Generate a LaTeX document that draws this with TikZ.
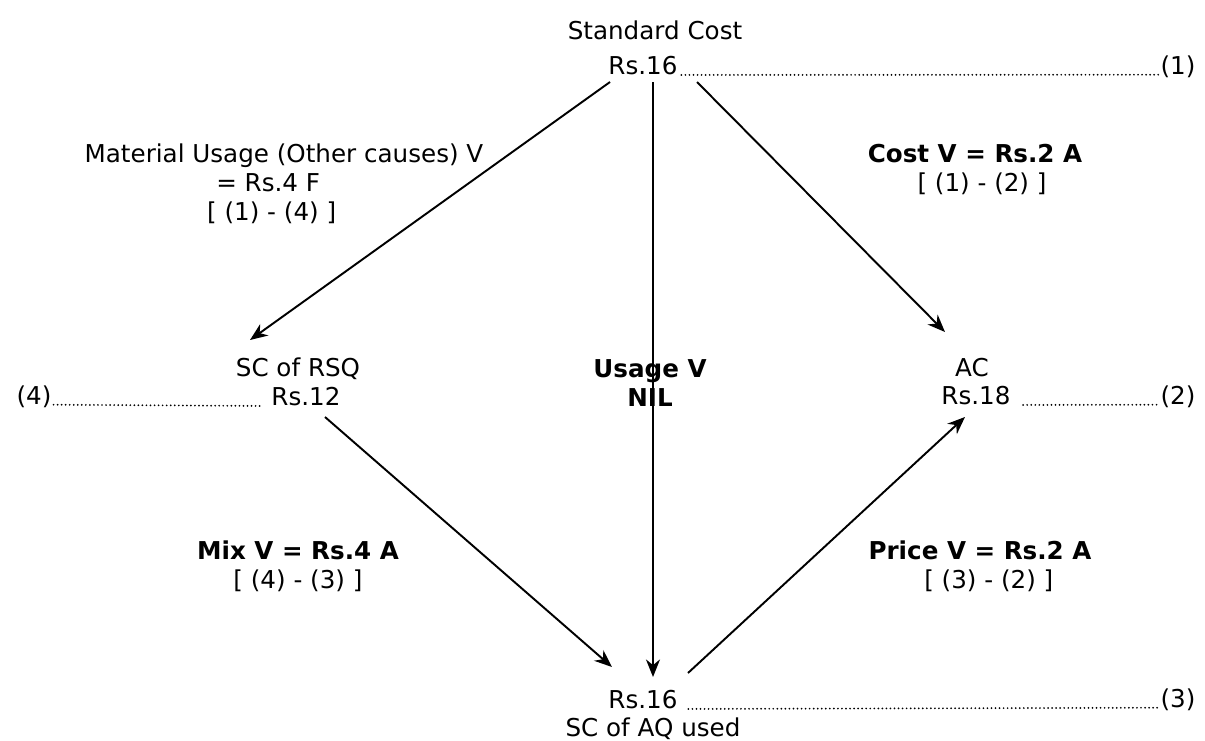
\documentclass[tikz,border=0pt]{standalone}
\usepackage{fontspec}
\setmainfont{DejaVu Sans}
\usetikzlibrary{positioning, arrows.meta}
\tikzset{>={Stealth[length=10pt,width=8pt]},
every node/.style={font=\fontsize{14}{16.5}\selectfont, inner sep=1pt, align=center},
flow/.style={->, line width=1.1pt},
leader/.style={line width=1.1pt, line cap=round, dash pattern=on 0pt off 2.3pt},
varlab/.style={font=\fontsize{14}{16.5}\selectfont\bfseries},
}

\begin{document}
\begin{tikzpicture}[x=0.02cm, y=-0.02cm]
            \useasboundingbox (0,0) rectangle (1205,741);
            % cost points
            \node (std) at (655,30) {Standard Cost};
            \node (top) at (643,66) {Rs.16};
            \node (rsqlab) at (298,369) {SC of RSQ};
            \node (rsq) at (306,397) {Rs.12};
            \node (aclab) at (972,368) {AC};
            \node (ac) at (976,396) {Rs.18};
            \node (bot) at (643,700) {Rs.16};
            \node (botlab) at (653,729) {SC of AQ used};
            % reference numbers
            \node (n1) at (1178,67) {(1)};
            \node (n2) at (1178,397) {(2)};
            \node (n3) at (1178,700) {(3)};
            \node (n4) at (34,397) {(4)};
            % variances
            \node (mu) at (284,184) {Material Usage (Other causes) V\\ \hspace*{-18pt}= Rs.4 F\\ \hspace*{-14pt}[ (1) - (4) ]};
            \node[varlab] (cost) at (975,169) {Cost V = Rs.2 A\\ \hspace*{8pt}\mdseries [ (1) - (2) ]};
            \node[varlab] (usage) at (650,383) {Usage V\\ NIL};
            \node[varlab] (mix) at (298,566) {Mix V = Rs.4 A\\ \mdseries [ (4) - (3) ]};
            \node[varlab] (price) at (980,566) {Price V = Rs.2 A\\ \hspace*{10pt}\mdseries [ (3) - (2) ]};

            \coordinate (top-l) at (610,82);
            \coordinate (top-m) at (653,82);
            \coordinate (top-r) at (697,82);
            \coordinate (rsq-in) at (250,340);
            \coordinate (rsq-out) at (325,417);
            \coordinate (ac-in) at (945,332);
            \coordinate (ac-up) at (965,417);
            \coordinate (bot-l) at (612,667);
            \coordinate (bot-m) at (653,677);
            \coordinate (bot-r) at (688,673);

            \draw[flow] (top-l) -- (rsq-in);
            \draw[flow] (top-m) -- (bot-m);
            \draw[flow] (top-r) -- (ac-in);
            \draw[flow] (rsq-out) -- (bot-l);
            \draw[flow] (bot-r) -- (ac-up);

            \draw[leader] ([xshift=1pt]top.base east) -- (n1.base west);
            \draw[leader] (n4.base east) -- ([xshift=-5pt]rsq.base west);
            \draw[leader] ([xshift=6pt]ac.base east) -- (n2.base west);
            \draw[leader] ([xshift=5pt]bot.base east) -- (n3.base west);
        \end{tikzpicture}
\end{document}
